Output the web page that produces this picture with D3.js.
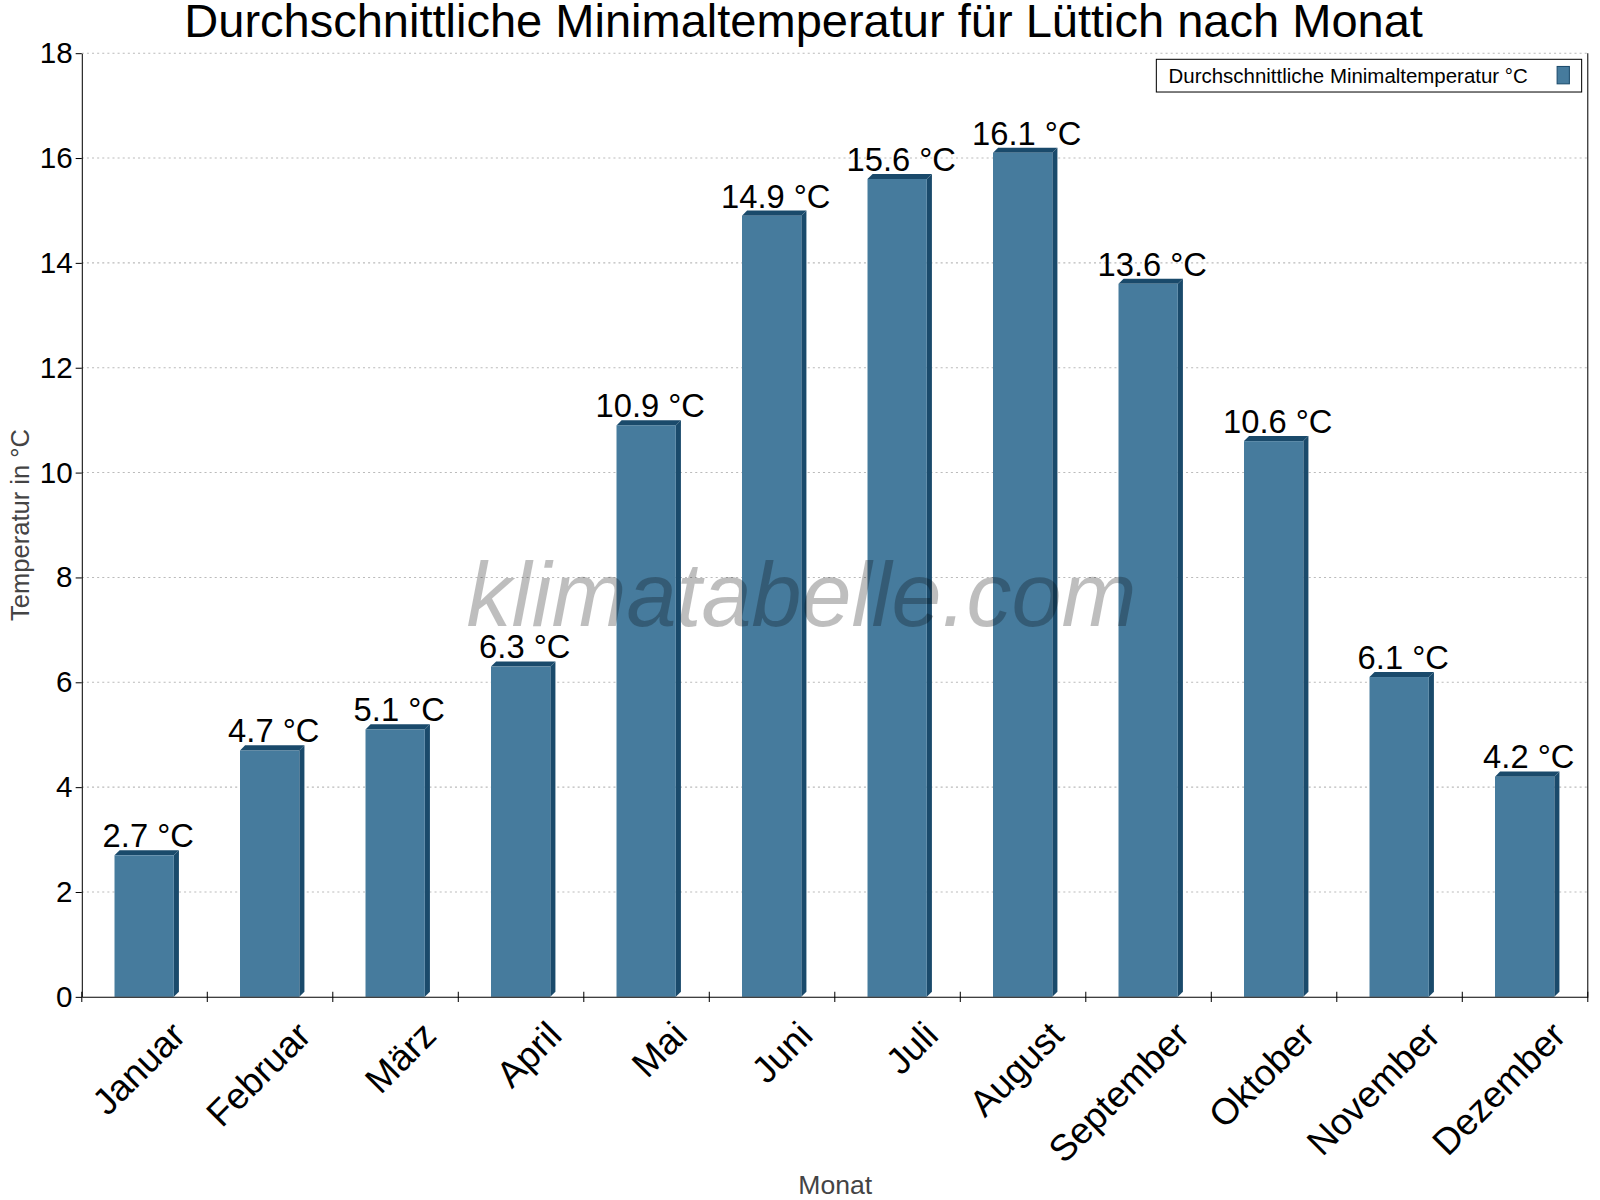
<!DOCTYPE html><html><head><meta charset="utf-8"><script src="https://cdn.jsdelivr.net/npm/d3@7"></script>
<style>body{margin:0;background:#fff}text{font-family:Arial,"Liberation Sans",sans-serif}</style></head><body><svg id="c" width="1600" height="1200"></svg><script>
const months=["Januar","Februar","März","April","Mai","Juni","Juli","August","September","Oktober","November","Dezember"];
const values=[2.7,4.7,5.1,6.3,10.9,14.9,15.6,16.1,13.6,10.6,6.1,4.2];
const yTicks=[0,2,4,6,8,10,12,14,16,18];
const svg=d3.select("#c").append("g").attr("transform","scale(1.0224)");
const m={l:80,r:1553,t:52,b:975};
const x=d3.scaleBand().domain(months).range([m.l,m.r]);
const y=d3.scaleLinear().domain([0,18]).range([m.b,m.t]);
svg.append("g").selectAll("line").data(yTicks.slice(1)).join("line").attr("x1",m.l).attr("x2",m.r).attr("y1",d=>y(d)).attr("y2",d=>y(d)).attr("stroke","#bbb").attr("stroke-dasharray","2,3");
svg.append("text").attr("x",786).attr("y",36).attr("text-anchor","middle").attr("font-size",46).text("Durchschnittliche Minimaltemperatur für Lüttich nach Monat");
const bw=58,off=32,d3d=5;
const g=svg.append("g");
months.forEach((mo,i)=>{const x0=x(mo)+off,yt=y(values[i]);
g.append("polygon").attr("points",`${x0+bw},${yt} ${x0+bw+d3d},${yt-d3d} ${x0+bw+d3d},${m.b-d3d} ${x0+bw},${m.b}`).attr("fill","#1a4a6b");
g.append("polygon").attr("points",`${x0},${yt} ${x0+d3d},${yt-d3d} ${x0+bw+d3d},${yt-d3d} ${x0+bw},${yt}`).attr("fill","#1a4a6b");
g.append("rect").attr("x",x0).attr("y",yt).attr("width",bw).attr("height",m.b-yt).attr("fill","#467b9d");
g.append("text").attr("x",x0+bw/2+4).attr("y",yt-8).attr("text-anchor","middle").attr("font-size",32).text(values[i]+" °C");});
svg.append("text").attr("x",784).attr("y",612).attr("text-anchor","middle").attr("font-size",88).attr("font-style","italic").attr("fill","#000").attr("opacity",0.25).text("klimatabelle.com");
const ya=svg.append("g").attr("transform",`translate(${m.l},0)`).call(d3.axisLeft(y).tickValues(yTicks).tickSize(6).tickSizeOuter(0));
ya.selectAll("text").attr("font-size",29).attr("fill","#000");
svg.append("g").attr("transform",`translate(0,${m.b})`).call(d3.axisBottom(x).tickSize(0).tickFormat(""));
svg.append("g").selectAll("line").data(d3.range(13)).join("line").attr("x1",i=>m.l+i*x.bandwidth()).attr("x2",i=>m.l+i*x.bandwidth()).attr("y1",m.b-5).attr("y2",m.b+5).attr("stroke","#000");
svg.append("g").selectAll("text").data(months).join("text").attr("transform",d=>`translate(${x(d)+x.bandwidth()/2+24},${m.b+22}) rotate(-45)`).attr("text-anchor","end").attr("dy","0.7em").attr("font-size",36).text(d=>d);
svg.selectAll(".domain").attr("stroke","#000");
svg.append("line").attr("x1",m.r).attr("x2",m.r).attr("y1",m.t).attr("y2",m.b).attr("stroke","#000");
svg.append("text").attr("transform",`translate(28,${(m.t+m.b)/2}) rotate(-90)`).attr("text-anchor","middle").attr("font-size",25).attr("fill","#444").text("Temperatur in °C");
svg.append("text").attr("x",817).attr("y",1168).attr("text-anchor","middle").attr("font-size",26).attr("fill","#444").text("Monat");
svg.append("rect").attr("x",1131).attr("y",58).attr("width",416).attr("height",32).attr("fill","#fff").attr("stroke","#000");
svg.append("text").attr("x",1143).attr("y",81).attr("font-size",20).text("Durchschnittliche Minimaltemperatur °C");
svg.append("rect").attr("x",1523).attr("y",65).attr("width",12).attr("height",17).attr("fill","#467b9d").attr("stroke","#1a4a6b");
</script></body></html>
